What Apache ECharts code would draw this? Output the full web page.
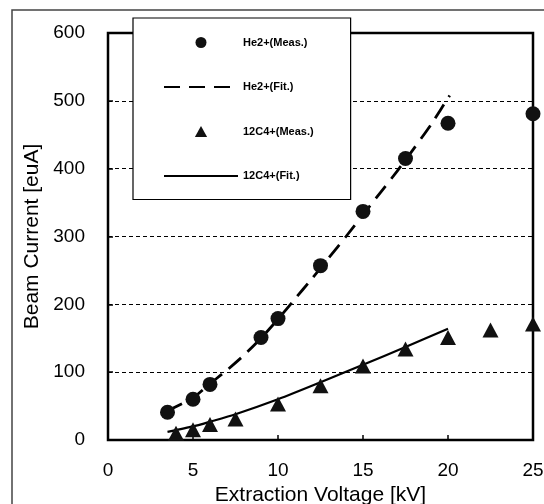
<!DOCTYPE html>
<html>
<head>
<meta charset="utf-8">
<script src="https://cdn.jsdelivr.net/npm/echarts@6/dist/echarts.min.js"></script>
<style>
html,body{margin:0;padding:0;background:#fff;}
#chart{width:544px;height:504px;}
</style>
</head>
<body>
<div id="chart"></div>
<script>
// Measured data
const heMeasX = [3.5, 5, 6, 9, 10, 12.5, 15, 17.5, 20, 25];
const heMeasY = [41, 60, 82, 151, 179, 257, 337, 415, 467, 481];
const heFitX = [3.5, 5, 6, 7, 8, 9, 10, 11, 12, 13, 14, 15, 16, 17, 18, 19, 20.1];
const heFitY = [43, 62, 83, 103, 125, 150, 178, 208, 238, 269, 300, 332, 364, 396, 430, 465, 508];
const cMeasX = [4, 5, 6, 7.5, 10, 12.5, 15, 17.5, 20, 22.5, 25];
const cMeasY = [10, 15, 23, 31, 53, 80, 109, 134, 151, 162, 171];
const cFitX = [3.5, 5, 6, 7.5, 10, 12.5, 15, 17.5, 20];
const cFitY = [12, 20, 27, 38, 60, 85, 111, 137, 164];
const seriesNames = ['He2+(Meas.)', 'He2+(Fit.)', '12C4+(Meas.)', '12C4+(Fit.)'];
const xTicks = [0, 5, 10, 15, 20, 25];
const yTicks = [0, 100, 200, 300, 400, 500, 600];

const pairs = (xs, ys) => xs.map((x, i) => [x, ys[i]]);
const FONT = '"Liberation Sans", Arial, sans-serif';

const chart = echarts.init(document.getElementById('chart'), null, {renderer: 'canvas'});
chart.setOption({
  animation: false,
  backgroundColor: '#fff',
  graphic: [{
    type: 'rect', z: -10,
    shape: {x: 12, y: 10, width: 700, height: 700},
    style: {fill: 'none', stroke: '#444', lineWidth: 1.5}
  }],
  grid: {
    left: 108, right: 11, top: 33, bottom: 64,
    outerBoundsMode: 'none', containLabel: false,
    show: true, borderColor: '#000', borderWidth: 2.5, backgroundColor: 'transparent'
  },
  legend: {
    orient: 'vertical', left: 133, top: 18,
    itemWidth: 74, itemHeight: 11, itemGap: 33.5,
    padding: [19, 37, 18, 30],
    backgroundColor: '#fff', borderColor: '#000', borderWidth: 1.2,
    selectedMode: false, symbolKeepAspect: true,
    textStyle: {fontFamily: FONT, fontSize: 11, fontWeight: 'bold', color: '#000', lineHeight: 11},
    data: [
      {name: seriesNames[0], icon: 'circle'},
      {name: seriesNames[1], itemStyle: {opacity: 0}},
      {name: seriesNames[2], icon: 'path://M5,0L10,9L0,9Z'},
      {name: seriesNames[3], itemStyle: {opacity: 0}}
    ]
  },
  xAxis: {
    type: 'value', min: xTicks[0], max: xTicks[xTicks.length - 1], interval: 5,
    name: 'Extraction Voltage [kV]', nameLocation: 'middle', nameGap: 38,
    nameTextStyle: {fontFamily: FONT, fontSize: 21, color: '#000'},
    axisLine: {show: false},
    axisTick: {show: true, inside: true, length: 5, lineStyle: {color: '#000', width: 1.5}},
    axisLabel: {fontFamily: FONT, fontSize: 19, color: '#000', margin: 21},
    splitLine: {show: false}
  },
  yAxis: {
    type: 'value', min: yTicks[0], max: yTicks[yTicks.length - 1], interval: 100,
    name: 'Beam Current [euA]', nameLocation: 'middle', nameGap: 64,
    nameTextStyle: {fontFamily: FONT, fontSize: 21, color: '#000'},
    axisLine: {show: false},
    axisTick: {show: true, inside: true, length: 5, lineStyle: {color: '#000', width: 1.5}},
    axisLabel: {fontFamily: FONT, fontSize: 19, color: '#000', margin: 23},
    splitLine: {show: true, lineStyle: {color: '#000', width: 1, type: [4, 3]}}
  },
  series: [
    {
      name: seriesNames[0], type: 'scatter', data: pairs(heMeasX, heMeasY),
      symbol: 'circle', symbolSize: 15,
      itemStyle: {color: '#111', opacity: 1}, z: 3
    },
    {
      name: seriesNames[1], type: 'line', data: pairs(heFitX, heFitY),
      symbol: 'none', smooth: 0.2, color: '#000',
      lineStyle: {color: '#000', width: 2.8, type: [16, 9]}, z: 2
    },
    {
      name: seriesNames[2], type: 'scatter', data: pairs(cMeasX, cMeasY),
      symbol: 'triangle', symbolSize: [16, 15],
      itemStyle: {color: '#111', opacity: 1}, z: 3
    },
    {
      name: seriesNames[3], type: 'line', data: pairs(cFitX, cFitY),
      symbol: 'none', smooth: 0.2, color: '#000',
      lineStyle: {color: '#000', width: 2.2, type: 'solid'}, z: 2
    }
  ]
});
</script>
</body>
</html>
